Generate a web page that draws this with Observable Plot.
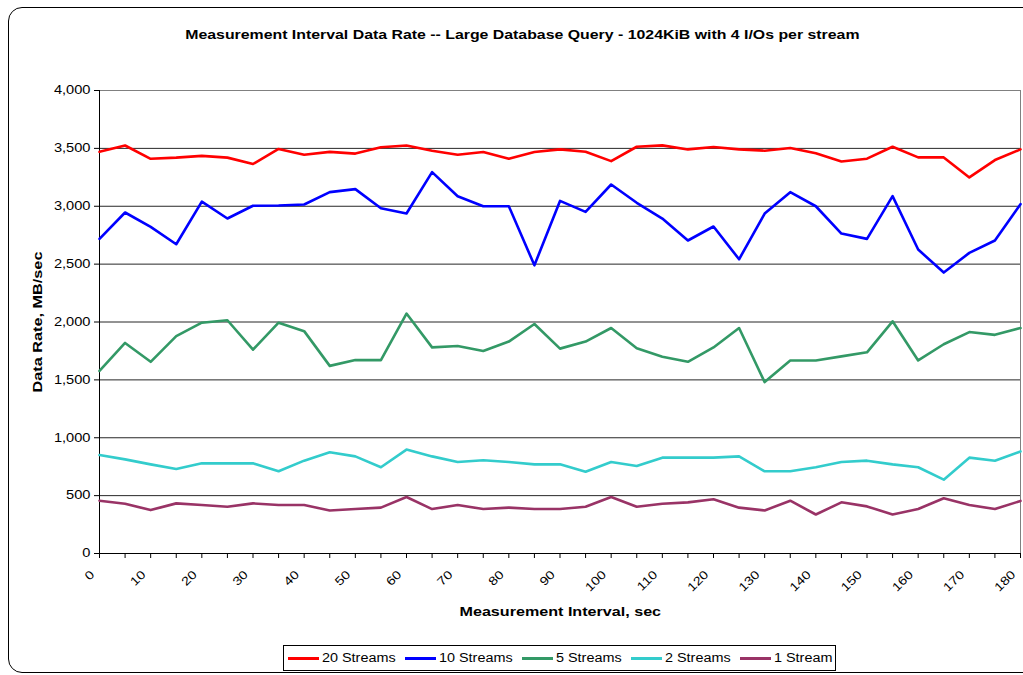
<!DOCTYPE html>
<html>
<head>
<meta charset="utf-8">
<script src="https://cdn.jsdelivr.net/npm/d3@7"></script>
<script src="https://cdn.jsdelivr.net/npm/@observablehq/plot@0.6"></script>
<style>
  body { margin: 0; background: #fff; font-family: "Liberation Sans", Arial, sans-serif; }
  #chart { position: relative; width: 1023px; height: 675px; overflow: hidden; background: #fff; }
  #frame { position: absolute; left: 8px; top: 7px; width: 1030px; height: 666px; border: 1px solid #000; border-radius: 14px; box-sizing: border-box; }
  #plot { position: absolute; left: 0; top: 0; }
  .wide { display: inline-block; white-space: nowrap; transform-origin: center; }
  #title { position: absolute; left: 0; width: 1044px; top: 27px; text-align: center; font-weight: bold; font-size: 13px; color: #000; }
  #title .wide { transform: scaleX(1.22); }
  #ytitle { position: absolute; left: 37px; top: 322px; transform: translate(-50%, -50%) rotate(-90deg); white-space: nowrap; font-weight: bold; font-size: 13px; }
  #ytitle .wide { transform: scaleX(1.25); }
  #xtitle { position: absolute; left: 0; width: 1120px; top: 604px; text-align: center; font-weight: bold; font-size: 13px; }
  #xtitle .wide { transform: scaleX(1.24); }
  #legend { position: absolute; left: 283px; top: 645px; width: 553px; height: 26px; border: 1px solid #000; box-sizing: border-box; display: flex; align-items: center; justify-content: space-between; padding: 0 3px 0 4px; font-size: 12px; }
  .item { display: flex; align-items: center; }
  .swatch { display: inline-block; width: 31px; height: 3px; margin-right: 3px; }
  .label { display: inline-block; white-space: nowrap; }
  .label span { display: inline-block; transform-origin: left center; }
</style>
</head>
<body>
<div id="chart">
  <div id="frame"></div>
  <div id="plot"></div>
  <div id="title"><span class="wide">Measurement Interval Data Rate -- Large Database Query - 1024KiB with 4 I/Os per stream</span></div>
  <div id="ytitle"><span class="wide">Data Rate, MB/sec</span></div>
  <div id="xtitle"><span class="wide">Measurement Interval, sec</span></div>
  <div id="legend"></div>
</div>
<script>
// Measurement intervals (seconds)
const interval = [0, 5, 10, 15, 20, 25, 30, 35, 40, 45, 50, 55, 60, 65, 70, 75, 80, 85, 90,
  95, 100, 105, 110, 115, 120, 125, 130, 135, 140, 145, 150, 155, 160, 165, 170, 175, 180];

// Data rate per interval, MB/sec
const streams20 = [3470, 3525, 3410, 3420, 3435, 3420, 3365, 3495, 3445, 3470, 3455, 3510, 3525,
  3480, 3445, 3468, 3411, 3468, 3491, 3471, 3390, 3514, 3526, 3491, 3512,
  3491, 3480, 3503, 3457, 3387, 3411, 3514, 3422, 3422, 3249, 3399, 3491];
const streams10 = [2718, 2946, 2822, 2672, 3040, 2894, 3004, 3007, 3015, 3122, 3148, 2983, 2937,
  3295, 3087, 3000, 3000, 2490, 3046, 2951, 3188, 3030, 2894, 2704, 2825,
  2542, 2937, 3122, 3000, 2764, 2718, 3087, 2626, 2427, 2597, 2704, 3018];
const streams5 = [1577, 1819, 1656, 1878, 1994, 2015, 1761, 1994, 1921, 1621, 1671, 1671, 2073,
  1781, 1793, 1749, 1831, 1983, 1770, 1831, 1948, 1773, 1700, 1656, 1780,
  1948, 1481, 1668, 1668, 1703, 1738, 2006, 1668, 1808, 1913, 1889, 1948];
const streams2 = [851, 813, 770, 730, 779, 779, 779, 710, 802, 874, 839, 745, 898,
  839, 790, 805, 790, 770, 770, 707, 790, 756, 828, 828, 828,
  839, 710, 710, 745, 790, 802, 770, 745, 638, 828, 802, 882];
const streams1 = [456, 430, 375, 433, 419, 404, 433, 419, 419, 372, 384, 396, 488,
  384, 419, 384, 396, 384, 384, 404, 488, 404, 430, 442, 468,
  396, 372, 456, 337, 442, 407, 337, 384, 477, 419, 384, 454];

const seriesNames = ["20 Streams", "10 Streams", "5 Streams", "2 Streams", "1 Stream"];
const seriesColors = ["#FF0000", "#0000FF", "#339966", "#33CCCC", "#993366"];
const seriesValues = [streams20, streams10, streams5, streams2, streams1];

const yTicks = [0, 500, 1000, 1500, 2000, 2500, 3000, 3500, 4000];
const xLabels = [0, 10, 20, 30, 40, 50, 60, 70, 80, 90, 100, 110, 120, 130, 140, 150, 160, 170, 180];

const rows = seriesNames.flatMap((name, s) =>
  seriesValues[s].map((rate, i) => ({series: name, t: interval[i], rate})));

const W = 1023, H = 640;
const chart = Plot.plot({
  width: W,
  height: H,
  marginLeft: 99,
  marginRight: 3,
  marginTop: 90,
  marginBottom: H - 553,
  style: {fontFamily: "'Liberation Sans', Arial, sans-serif", fontSize: "12px", color: "#000", background: "transparent", overflow: "visible"},
  x: {domain: [0, 180]},
  y: {domain: [0, 4000]},
  color: {domain: seriesNames, range: seriesColors},
  marks: [
    Plot.gridY(yTicks.slice(1, -1), {stroke: "#000", strokeOpacity: 0.85}),
    Plot.ruleY([4000], {stroke: "#808080"}),
    Plot.ruleX([180], {stroke: "#808080"}),
    Plot.axisY(yTicks, {tickSize: 5, tickPadding: 4, tickFormat: d3.format(","), label: null, className: "ylab"}),
    Plot.axisX(interval, {tickSize: 5, tickFormat: () => "", label: null}),
    Plot.axisX(xLabels, {tickSize: 0, tickPadding: 19, tickRotate: -45, dx: -7, label: null, fontSize: 12, className: "xlab"}),
    Plot.ruleX([0], {stroke: "#000"}),
    Plot.ruleY([0], {stroke: "#000"}),
    Plot.lineY(rows, {x: "t", y: "rate", z: "series", stroke: "series", strokeWidth: 2.6})
  ]
});
document.getElementById("plot").append(chart);

// Widen tick labels along their reading direction
function widen(selector, k) {
  d3.select(chart).selectAll(selector).each(function () {
    const t = this.getAttribute("transform");
    if (t) this.setAttribute("transform", `${t} scale(${k},1)`);
  });
}
widen(".ylab text", 1.22);
widen(".xlab text", 1.2);

// Legend below the plot
const legend = d3.select("#legend");
seriesNames.forEach((name, i) => {
  const item = legend.append("span").attr("class", "item");
  item.append("span").attr("class", "swatch").style("background", seriesColors[i]);
  const box = item.append("span").attr("class", "label");
  const inner = box.append("span").text(name);
  const w = inner.node().getBoundingClientRect().width;
  box.style("width", `${w * 1.2}px`);
  inner.style("transform", "scaleX(1.2)");
});
</script>
</body>
</html>
